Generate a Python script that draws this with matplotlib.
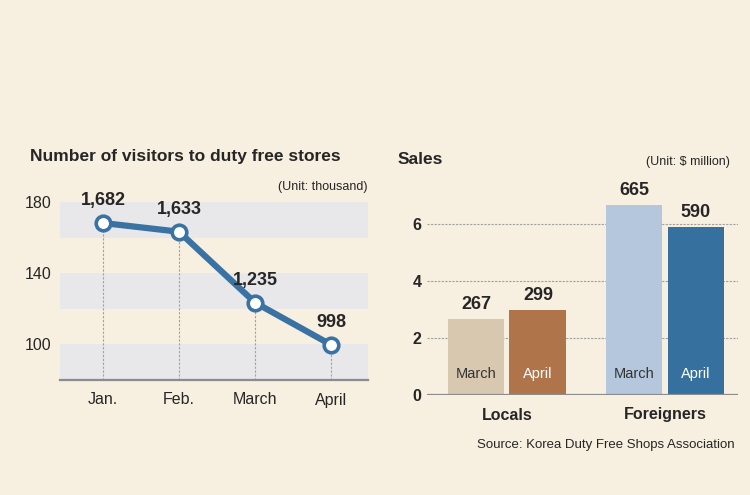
import matplotlib
matplotlib.use('Agg')
import matplotlib.pyplot as plt

# visitors (thousand); plotted in units of ten thousand
months = ['Jan.', 'Feb.', 'March', 'April']
visitors = [1682, 1633, 1235, 998]

# sales ($ million); plotted in hundreds
groups = ['Locals', 'Foreigners']
sales_march = [267, 665]
sales_april = [299, 590]

BG = '#f7efdf'
DARK = '#262626'
BLUE = '#3a72a3'

plt.rcParams['font.family'] = ['Liberation Sans', 'DejaVu Sans']

W, H = 750, 495
fig = plt.figure(figsize=(W / 100, H / 100), dpi=100, facecolor=BG)


def fx(px):
    return px / W


def fy(py):
    return 1 - py / H


def axes_px(x0, x1, ytop, ybot):
    return fig.add_axes([fx(x0), fy(ybot), fx(x1) - fx(x0), fy(ytop) - fy(ybot)])


"""
Left: line chart
"""
ax = axes_px(60, 368, 202, 380)
ax.set_facecolor(BG)
xs = list(range(len(months)))
ys = [v / 10 for v in visitors]
for lo, hi in [(160, 180), (120, 140), (80, 100)]:
    ax.axhspan(lo, hi, color='#e8e8ea', lw=0, zorder=0)
for x, y in zip(xs, ys):
    ax.plot([x, x], [80, y], color='#a0a0a0', lw=0.8, ls=(0, (2, 1.5)), zorder=1)
ax.plot(xs, ys, color=BLUE, lw=4.5, marker='o', ms=10.5, mfc='white',
        mec=BLUE, mew=2.6, zorder=3, solid_capstyle='round')
for x, y, v in zip(xs, ys, visitors):
    ax.annotate(f'{v:,}', (x, y), xytext=(0, 16), textcoords='offset points',
                ha='center', va='center', fontsize=13, fontweight='bold',
                color=DARK, annotation_clip=False)
ax.set_xlim(-0.566, 3.487)
ax.set_ylim(80, 180)
ax.set_yticks([100, 140, 180])
ax.set_xticks(xs, months)
ax.tick_params(length=0, labelsize=11.5, colors=DARK)
ax.tick_params(axis='x', pad=9)
ax.tick_params(axis='y', pad=6)
for s in ['top', 'right', 'left']:
    ax.spines[s].set_visible(False)
ax.spines['bottom'].set_color('#8c8c8c')
ax.spines['bottom'].set_linewidth(1.6)

fig.text(fx(30), fy(157), 'Number of visitors to duty free stores', ha='left',
         va='center', fontsize=12.5, fontweight='bold', color=DARK)
fig.text(fx(367), fy(187), '(Unit: thousand)', ha='right', va='center',
         fontsize=9, color=DARK)

"""
Right: grouped bars
"""
bx = axes_px(427, 738, 395 - 7 * 28.5, 395)
bx.set_facecolor(BG)
gx = list(range(len(groups)))
off, bw = 0.196, 0.36
colors_m = ['#d8c8b0', '#b5c7dc']
colors_a = ['#b0744a', '#36709f']
for i in gx:
    for dx, val, col, name, tcol in [(-off, sales_march[i], colors_m[i], 'March', '#333333'),
                                     (off, sales_april[i], colors_a[i], 'April', 'white')]:
        bx.bar(i + dx, val / 100, width=bw, color=col, zorder=2)
        bx.text(i + dx, val / 100 + 0.22, f'{val}', ha='center', va='bottom',
                fontsize=13, fontweight='bold', color=DARK)
        bx.text(i + dx, 0.75, name, ha='center', va='center', fontsize=10.5,
                color=tcol, zorder=3)
for g in [2, 4, 6]:
    bx.axhline(g, color='#a0a0a0', lw=0.8, ls=(0, (2, 1.2)), zorder=1)
bx.axhline(0, color='#8c8c8c', lw=1.6, zorder=3)
bx.set_xlim(-0.506, 1.462)
bx.set_ylim(0, 7)
bx.set_yticks([0, 2, 4, 6])
bx.set_yticklabels(['0', '2', '4', '6'], fontweight='bold')
bx.set_xticks(gx, groups, fontweight='bold')
bx.tick_params(length=0, labelsize=11.5, colors=DARK)
bx.tick_params(axis='x', pad=9)
bx.tick_params(axis='y', pad=4)
for s in bx.spines.values():
    s.set_visible(False)

fig.text(fx(398), fy(159), 'Sales', ha='left', va='center', fontsize=12.5,
         fontweight='bold', color=DARK)
fig.text(fx(730), fy(162), '(Unit: $ million)', ha='right', va='center',
         fontsize=9, color=DARK)
fig.text(fx(735), fy(445), 'Source: Korea Duty Free Shops Association',
         ha='right', va='center', fontsize=9.5, color=DARK)

fig.savefig('out.png', dpi=100, facecolor=BG)
plt.close(fig)
